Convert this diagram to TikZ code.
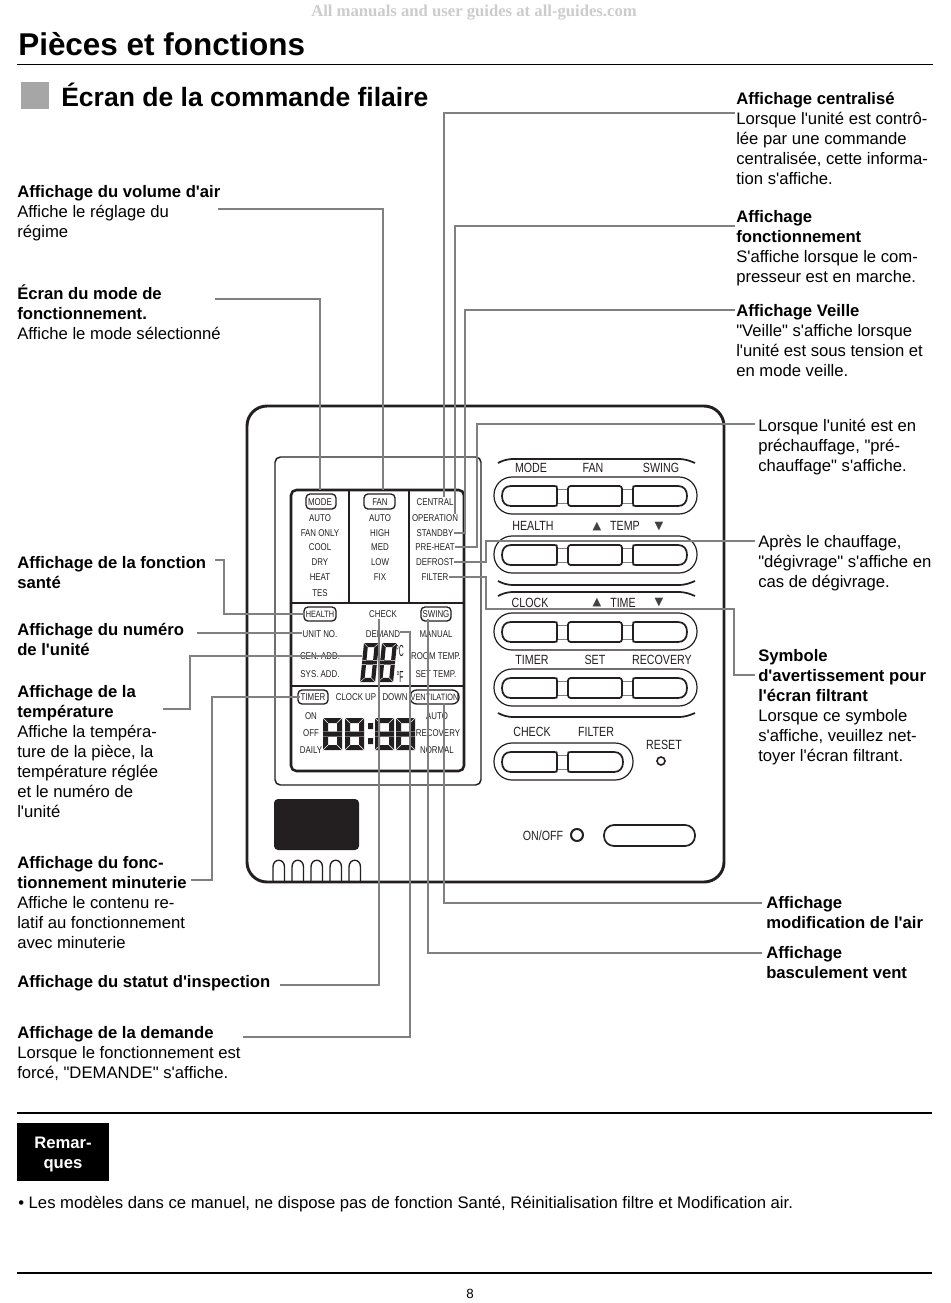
\documentclass[tikz,border=0pt]{standalone}
\usepackage{fontspec}
\setmainfont[Ligatures=TeXOff]{Liberation Sans}
\newfontfamily\cond[FakeStretch=0.8]{Liberation Sans}
\newfontfamily\djv{DejaVu Sans}
\definecolor{ink}{HTML}{231F20}
\definecolor{lead}{HTML}{808080}
\tikzset{
  x=0.75pt,y=-0.75pt,
  conn/.style={draw=lead,line width=1.5pt},
  dev/.style={draw=ink,line width=2.2pt},
  lcdframe/.style={draw=ink,line width=1.9pt},
  thin key/.style={draw=ink,line width=0.9pt},
  keyb/.style={draw=ink,line width=1.3pt},
  block/.style={anchor=north west,inner sep=0pt,align=left,text=black,font=\fontsize{12.5}{15}\selectfont},
  lcd/.style={inner sep=0pt,text=ink,font=\cond\fontsize{7.4}{8}\selectfont},
  lcdsmall/.style={inner sep=0pt,text=ink,font=\cond\fontsize{6.9}{8}\selectfont},
  keyl/.style={inner sep=0pt,text=ink,font=\cond\fontsize{10}{11}\selectfont},
  badge/.style={draw=ink,line width=1pt,rounded corners=3pt},
  tri/.style={inner sep=0pt,text=ink!85,font=\djv\fontsize{8.5}{9}\selectfont},
  segcut/.style={draw=white,line width=0.3pt},
}
\newcommand{\hd}[1]{\textbf{#1}}
\newcommand{\keyL}[4]{\draw[keyb] ({#3-3},#2) -- ({#1+9},#2) .. controls ({#1+3},#2) and (#1,{#2+4}) .. (#1,{(#2+#4)/2}) .. controls (#1,{#4-4}) and ({#1+3},#4) .. ({#1+9},#4) -- ({#3-3},#4) .. controls (#3,#4) .. (#3,{#4-3}) -- (#3,{#2+3}) .. controls (#3,#2) .. ({#3-3},#2) -- cycle;}
\newcommand{\keyR}[4]{\draw[keyb] ({#1+3},#2) -- ({#3-9},#2) .. controls ({#3-3},#2) and (#3,{#2+4}) .. (#3,{(#2+#4)/2}) .. controls (#3,{#4-4}) and ({#3-3},#4) .. ({#3-9},#4) -- ({#1+3},#4) .. controls (#1,#4) .. (#1,{#4-3}) -- (#1,{#2+3}) .. controls (#1,#2) .. ({#1+3},#2) -- cycle;}
\newcommand{\keyM}[4]{\draw[keyb,rounded corners=2pt] (#1,#2) rectangle (#3,#4);}
\newcommand{\bridge}[4]{\draw[draw=lead,line width=0.7pt] (#1,{#2+3}) -- (#3,{#2+3}) (#1,{#4-3}) -- (#3,{#4-3});}
\newcommand{\keyrow}[2]{%
  \pgfmathtruncatemacro{\rowb}{#2+20}%
  \draw[thin key,rounded corners=13.5pt] (494,#1) rectangle (697,{#1+37});
  \bridge{557}{#2}{568}{\rowb}\bridge{622}{#2}{633}{\rowb}
  \keyL{502}{#2}{557}{\rowb}\keyM{568}{#2}{622}{\rowb}\keyR{633}{#2}{687}{\rowb}}
\newcommand{\archtop}[1]{\draw[keyb] (498,{#1+4}) .. controls (502,{#1+2}) and (506,#1) .. (514,#1) -- (678,#1) .. controls (686,#1) and (690,{#1+2}) .. (695,{#1+4});}
\newcommand{\archbot}[1]{\draw[keyb] (498,{#1-4}) .. controls (502,{#1-2}) and (506,#1) .. (514,#1) -- (678,#1) .. controls (686,#1) and (690,{#1-2}) .. (695,{#1-4});}
\newcommand{\sevenseg}[6]{% x y w h stroke slant : solid eight with two voids and thin joints
  \begin{scope}[shift={(#1,#2)},xslant=#6]
    \fill[ink,even odd rule] (0,0) rectangle (#3,#4)
      (#5,#5) rectangle ({#3-#5},{#4/2-#5/2})
      (#5,{#4/2+#5/2}) rectangle ({#3-#5},{#4-#5});
    \draw[segcut] (0,0) -- (#5,#5) (#3,0) -- ({#3-#5},#5)
      (0,#4) -- (#5,{#4-#5}) (#3,#4) -- ({#3-#5},{#4-#5})
      (0,{#4/2-#5/2}) -- (#5,{#4/2-#5/2}) (0,{#4/2+#5/2}) -- (#5,{#4/2+#5/2})
      (#3,{#4/2-#5/2}) -- ({#3-#5},{#4/2-#5/2}) (#3,{#4/2+#5/2}) -- ({#3-#5},{#4/2+#5/2});
  \end{scope}}
\begin{document}
\begin{tikzpicture}
\useasboundingbox (0,0) rectangle (950,1303);
% watermark and titles
\node[inner sep=0pt,text=black!20,font=\fontspec{Liberation Serif}\bfseries\fontsize{12.5}{14}\selectfont] (wm) at (474,12.5) {All manuals and user guides at all-guides.com};
\node[anchor=west,inner sep=0pt,font=\bfseries\fontsize{23.6}{28}\selectfont] (title) at (18,44) {Pièces et fonctions};
\draw[black,line width=0.8pt] (17,64.5) -- (933,64.5);
\fill[black!35] (21,82) rectangle (49,109);
\node[anchor=west,inner sep=0pt,font=\bfseries\fontsize{19.9}{25}\selectfont] (subtitle) at (61,95) {Écran de la commande filaire};
% left blocks
\node[block] (bVol) at (17,183) {\hd{Affichage du volume d'air}\strut\\Affiche le réglage du\\régime};
\node[block] (bMode) at (17,284) {\hd{Écran du mode de}\strut\\\hd{fonctionnement.}\\Affiche le mode sélectionné};
\node[block] (bSante) at (17,554) {\hd{Affichage de la fonction}\strut\\\hd{santé}};
\node[block] (bNum) at (17,621) {\hd{Affichage du numéro}\strut\\\hd{de l'unité}};
\node[block] (bTemp) at (17,683) {\hd{Affichage de la}\strut\\\hd{température}\\Affiche la tempéra-\\ture de la pièce, la\\température réglée\\et le numéro de\\l'unité};
\node[block] (bMin) at (17,854) {\hd{Affichage du fonc-}\strut\\\hd{tionnement minuterie}\\Affiche le contenu re-\\latif au fonctionnement\\avec minuterie};
\node[block] (bInsp) at (17,973) {\hd{Affichage du statut d'inspection}\strut};
\node[block] (bDem) at (17,1024) {\hd{Affichage de la demande}\strut\\Lorsque le fonctionnement est\\forcé, "DEMANDE" s'affiche.};
% right blocks
\node[block] (bCent) at (736,90) {\hd{Affichage centralisé}\strut\\Lorsque l'unité est contrô-\\lée par une commande\\centralisée, cette informa-\\tion s'affiche.};
\node[block] (bFonc) at (736,208) {\hd{Affichage}\strut\\\hd{fonctionnement}\\S'affiche lorsque le com-\\presseur est en marche.};
\node[block] (bVeil) at (736,302) {\hd{Affichage Veille}\strut\\"Veille" s'affiche lorsque\\l'unité est sous tension et\\en mode veille.};
\node[block] (bPre) at (758,417) {Lorsque l'unité est en\strut\\préchauffage, "pré-\\chauffage" s'affiche.};
\node[block] (bDeg) at (758,533) {Après le chauffage,\strut\\"dégivrage" s'affiche en\\cas de dégivrage.};
\node[block] (bFil) at (758,647) {\hd{Symbole}\strut\\\hd{d'avertissement pour}\\\hd{l'écran filtrant}\\Lorsque ce symbole\\s'affiche, veuillez net-\\toyer l'écran filtrant.};
\node[block] (bAir) at (766,894) {\hd{Affichage}\strut\\\hd{modification de l'air}};
\node[block] (bVent) at (766,944) {\hd{Affichage}\strut\\\hd{basculement vent}};
% device
\draw[dev,rounded corners=15pt] (247,406) rectangle (724,882);
\draw[draw=ink,line width=1.1pt,rounded corners=4pt] (275,457) rectangle (481,785);
\draw[lcdframe,rounded corners=4pt] (291,490) rectangle (464,771);
\draw[draw=ink,line width=1.2pt] (349,490) -- (349,603) (409,490) -- (409,603);
\draw[draw=ink,line width=1.4pt] (291,603) -- (464,603) (291,686) -- (464,686);
\fill[ink,rounded corners=3pt] (274,799) rectangle (359,850);
\foreach \ax in {273,292,311,330,349}{
  \draw[draw=ink,line width=1pt] (\ax,881) -- (\ax,867) .. controls (\ax,858) and ({\ax+11.5},858) .. ({\ax+11.5},867) -- ({\ax+11.5},881);
}
% LCD badges and text
\draw[badge] (306,494) rectangle (336,509);
\draw[badge] (364,494) rectangle (395,509);
\draw[badge] (304,607) rectangle (336,621);
\draw[badge] (421,607) rectangle (451,621);
\draw[badge] (298,690) rectangle (328,704);
\draw[badge,rounded corners=5pt] (410,690) rectangle (459,704);
\node[lcd] (mode) at (320,502) {MODE};
\node[lcd] (fan) at (380,502) {FAN};
\node[lcd] (central) at (435,502) {CENTRAL};
\node[lcd] (a1) at (320,518) {AUTO};
\node[lcd] (a2) at (380,518) {AUTO};
\node[lcd] (operation) at (435,518) {OPERATION};
\node[lcd] (fanonly) at (320,533) {FAN ONLY};
\node[lcd] (high) at (380,533) {HIGH};
\node[lcd] (standby) at (435,533) {STANDBY};
\node[lcd] (cool) at (320,547) {COOL};
\node[lcd] (med) at (380,547) {MED};
\node[lcd] (preheat) at (435,547) {PRE-HEAT};
\node[lcd] (dry) at (320,562) {DRY};
\node[lcd] (low) at (380,562) {LOW};
\node[lcd] (defrost) at (435,562) {DEFROST};
\node[lcd] (heat) at (320,577) {HEAT};
\node[lcd] (fix) at (380,577) {FIX};
\node[lcd] (filter) at (435,577) {FILTER};
\node[lcd] (tes) at (320,593) {TES};
\node[lcdsmall] (health) at (320,614) {HEALTH};
\node[lcd] (check) at (383,614) {CHECK};
\node[lcd] (swing) at (436,614) {SWING};
\node[lcd] (unitno) at (320,634) {UNIT NO.};
\node[lcd] (demand) at (383,634) {DEMAND};
\node[lcd] (manual) at (436,634) {MANUAL};
\node[lcd] (cenadd) at (320,656) {CEN. ADD.};
\node[lcd] (roomtemp) at (436,656) {ROOM TEMP.};
\node[lcd] (sysadd) at (320,674) {SYS. ADD.};
\node[lcd] (settemp) at (436,674) {SET TEMP.};
\node[lcd] (timer) at (313,697) {TIMER};
\node[lcd] (clockup) at (356,697) {CLOCK UP};
\node[lcd] (down) at (395,697) {DOWN};
\node[lcdsmall] (ventilation) at (434.5,697) {VENTILATION};
\node[lcd] (on) at (311,716) {ON};
\node[lcd] (off) at (311,733) {OFF};
\node[lcd] (daily) at (311,750) {DAILY};
\node[lcd] (auto3) at (437,716) {AUTO};
\node[lcd] (recovery3) at (438,733) {RECOVERY};
\node[lcd] (normal) at (437,750) {NORMAL};
% digits
\sevenseg{364}{643}{15}{39}{4.2}{0.1}
\sevenseg{382}{643}{15}{39}{4.2}{0.1}
\sevenseg{323}{718}{19}{32}{5}{0}
\sevenseg{345}{718}{19}{32}{5}{0}
\fill[ink] (368,723) rectangle (373,729) (368,738) rectangle (373,744);
\sevenseg{375}{718}{19}{32}{5}{0}
\sevenseg{396}{718}{19}{32}{5}{0}
\node[inner sep=0pt,text=ink,font=\cond\fontsize{8}{9}\selectfont] (degc) at (400,651) {\scalebox{0.8}[1.5]{°C}};
\node[inner sep=0pt,text=ink,font=\cond\fontsize{8}{9}\selectfont] (degf) at (400,677) {\scalebox{0.8}[1.5]{°F}};
% keypad
\archtop{459}
\keyrow{477}{486}
\keyrow{536}{545}
\archbot{585}
\archtop{592}
\keyrow{613}{622}
\keyrow{669}{678}
\archbot{717}
\draw[thin key,rounded corners=13.5pt] (494,743) rectangle (633,780);
\bridge{557}{752}{568}{772}
\keyL{502}{752}{557}{772}\keyR{568}{752}{623}{772}
\node[keyl] (kMode) at (531,468) {MODE};
\node[keyl] (kFan) at (593,468) {FAN};
\node[keyl] (kSwing) at (661,468) {SWING};
\node[keyl] (kHealth) at (533,526) {HEALTH};
\node[tri] (kU1) at (597,526.5) {▲};
\node[keyl] (kTemp) at (625,526) {TEMP};
\node[tri] (kD1) at (659,526.5) {▼};
\node[keyl] (kClock) at (530,603) {CLOCK};
\node[tri] (kU2) at (597,602.5) {▲};
\node[keyl] (kTime) at (623,603) {TIME};
\node[tri] (kD2) at (659,602.5) {▼};
\node[keyl] (kTimer) at (532,660) {TIMER};
\node[keyl] (kSet) at (595,660) {SET};
\node[keyl] (kRec) at (662,660) {RECOVERY};
\node[keyl] (kCheck) at (532,732) {CHECK};
\node[keyl] (kFilter) at (596,732) {FILTER};
\node[keyl] (kReset) at (664,745) {RESET};
\draw[draw=ink,line width=1.2pt] (661,761) circle[radius=4];
\node[keyl] (kOnoff) at (543,836) {ON/OFF};
\draw[draw=ink,line width=1.5pt] (577,835) circle[radius=6];
\draw[keyb,rounded corners=7.5pt] (604,825) rectangle (695,846);
% connector ends
\coordinate (s1) at (218,209);  \coordinate (e1) at (383,490);
\coordinate (s2) at (215,299);  \coordinate (e2) at (320,490);
\coordinate (s3) at (735,113);  \coordinate (e3) at (444,497);
\coordinate (s4) at (735,226);  \coordinate (e4) at (455,514);
\coordinate (s5) at (735,310);  \coordinate (m5) at (465,533);
\coordinate (s6) at (755,424);  \coordinate (m6) at (477,547);
\coordinate (s7) at (755,541);  \coordinate (m7) at (486,562);
\coordinate (s8) at (755,675);  \coordinate (a8) at (734,675); \coordinate (b8) at (734,609); \coordinate (c8) at (486,609); \coordinate (d8) at (486,577);
\coordinate (s9) at (215,560);  \coordinate (a9) at (224,560); \coordinate (b9) at (224,614);
\coordinate (s10) at (197,633);
\coordinate (s11) at (163,709); \coordinate (a11) at (190,709); \coordinate (b11) at (190,656); \coordinate (e11) at (362,648);
\coordinate (s12) at (191,880); \coordinate (a12) at (212,880); \coordinate (b12) at (212,697);
\coordinate (s13) at (280,985); \coordinate (e13) at (379,619);
\coordinate (s14) at (243,1037);\coordinate (a14) at (410,1037); \coordinate (b14) at (410,632);
\coordinate (s15) at (762,903); \coordinate (e15) at (444,703);
\coordinate (s16) at (762,953); \coordinate (e16) at (428,619);
% connectors
\draw[conn] (s1) -| (e1);
\draw[conn] (s2) -| (e2);
\draw[conn] (s3) -| (e3);
\draw[conn] (s4) -| (e4);
\draw[conn] (s5) -- (s5-|m5) -- (m5) -- (standby.east|-m5);
\draw[conn] (s6) -- (s6-|m6) -- (m6) -- (preheat.east|-m6);
\draw[conn] (s7) -- (s7-|m7) -- (m7) -- (defrost.east|-m7);
\draw[conn] (s8) -- (a8) -- (b8) -- (c8) -- (d8) -- (filter.east|-d8);
\draw[conn] (s9) -- (a9) -- (b9) -- (health.west|-b9);
\draw[conn] (s10) -- (unitno.west|-s10);
\draw[conn] (s11) -- (a11) -- (b11) -- (b11-|e11);
\draw[conn] (s12) -- (a12) -- (b12) -- (timer.west|-b12);
\draw[conn] (s13) -| (e13);
\draw[conn] (s14) -- (a14) -- (b14) -- (demand.east|-b14);
\draw[conn] (s15) -| (e15);
\draw[conn] (s16) -| (e16);
% footer
\draw[black,line width=1.5pt] (17,1113) -- (932,1113);
\fill[black] (17,1123) rectangle (109,1181);
\node[inner sep=0pt,align=center,text=white,font=\bfseries\fontsize{12.5}{15}\selectfont] (rem) at (63,1154) {Remar-\\ques};
\node[anchor=west,inner sep=0pt,font=\fontsize{12.5}{15}\selectfont] (note) at (18,1204) {• Les modèles dans ce manuel, ne dispose pas de fonction Santé, Réinitialisation filtre et Modification air.};
\draw[black,line width=1.5pt] (17,1273) -- (932,1273);
\node[inner sep=0pt,font=\fontsize{10}{12}\selectfont] (page) at (470,1294) {8};
\end{tikzpicture}
\end{document}
